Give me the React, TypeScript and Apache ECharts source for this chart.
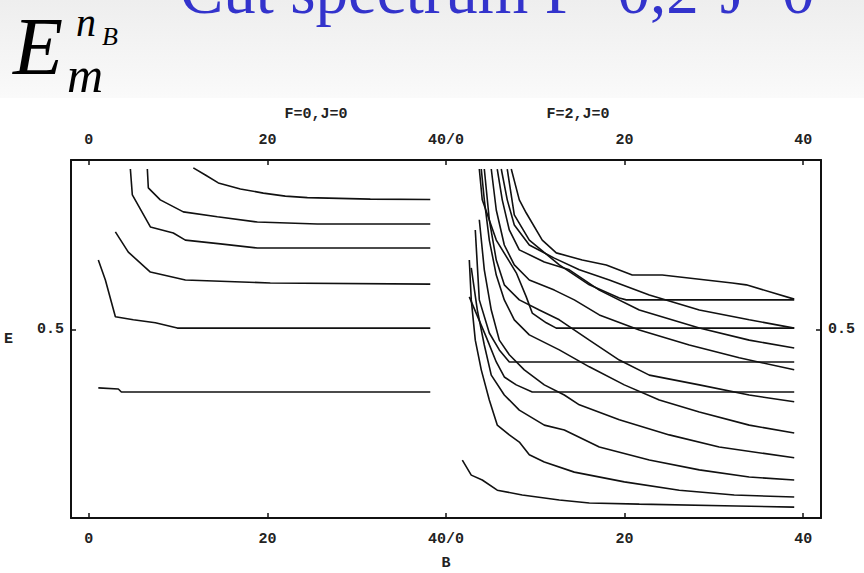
import React, { useEffect, useRef } from "react";
import * as echarts from "echarts";

// ---- texts ----
const titleMain = "Cut spectrum F=0,2";
const titleTail = "J=0";
const panelTitles = ["F=0,J=0", "F=2,J=0"];
const xAxisName = "B";
const yAxisName = "E";

// ---- axes ----
const xTickValues = [0, 20, 40, 60, 80];
const xTickLabels = ["0", "20", "40/0", "20", "40"];
const yTickValues = [0.5];
const yTickLabels = ["0.5"];
const panelOffsets = [0, 40];

// ---- data: [B, E] inside each panel ----
const f0Curves: number[][][] = [
  [[11.7, 0.931], [13.05, 0.912], [14.5, 0.891], [16.97, 0.875], [19.54, 0.864], [22.0, 0.856], [24.47, 0.852], [31.52, 0.848], [38.24, 0.847]],
  [[6.55, 0.928], [6.66, 0.878], [8.0, 0.846], [10.58, 0.814], [14.39, 0.801], [18.87, 0.787], [25.59, 0.782], [38.24, 0.782]],
  [[4.65, 0.928], [4.87, 0.859], [6.89, 0.774], [9.46, 0.758], [10.81, 0.739], [14.73, 0.729], [18.87, 0.718], [38.24, 0.718]],
  [[2.97, 0.761], [4.42, 0.707], [6.89, 0.654], [10.81, 0.633], [20.32, 0.625], [38.24, 0.622]],
  [[1.06, 0.686], [1.85, 0.633], [2.97, 0.535], [4.98, 0.527], [7.45, 0.519], [9.91, 0.505], [38.24, 0.505]],
  [[1.06, 0.346], [3.3, 0.343], [3.64, 0.335], [38.24, 0.335]],
];

const f2Curves: number[][][] = [
  [[1.83, 0.154], [2.83, 0.114], [4.06, 0.101], [5.74, 0.074], [8.54, 0.061], [12.69, 0.048], [16.05, 0.04], [21.65, 0.037], [32.51, 0.032], [39.0, 0.029]],
  [[2.61, 0.686], [2.83, 0.58], [3.28, 0.473], [3.95, 0.394], [4.85, 0.314], [5.74, 0.247], [7.09, 0.221], [8.21, 0.202], [9.33, 0.168], [11.01, 0.149], [14.37, 0.122], [19.97, 0.096], [26.13, 0.074], [32.28, 0.061], [39.0, 0.056]],
  [[2.83, 0.665], [3.51, 0.553], [4.29, 0.46], [5.07, 0.38], [6.53, 0.327], [8.21, 0.287], [11.01, 0.247], [13.25, 0.234], [17.17, 0.189], [22.77, 0.154], [28.37, 0.128], [33.96, 0.109], [39.0, 0.101]],
  [[3.73, 0.793], [4.29, 0.66], [5.07, 0.553], [5.97, 0.473], [7.09, 0.434], [8.77, 0.394], [11.01, 0.354], [13.25, 0.327], [14.93, 0.301], [19.41, 0.261], [25.01, 0.221], [30.6, 0.189], [39.0, 0.16]],
  [[3.95, 0.928], [4.29, 0.846], [4.85, 0.739], [5.63, 0.646], [6.53, 0.58], [7.65, 0.527], [9.33, 0.487], [12.69, 0.447], [16.05, 0.402], [19.97, 0.354], [23.89, 0.314], [28.37, 0.282], [33.96, 0.247], [39.0, 0.226]],
  [[4.29, 0.928], [4.85, 0.793], [5.63, 0.686], [6.53, 0.62], [8.21, 0.58], [10.45, 0.553], [12.69, 0.527], [16.05, 0.473], [19.41, 0.42], [22.77, 0.38], [28.37, 0.354], [33.96, 0.327], [39.0, 0.309]],
  [[5.07, 0.928], [5.63, 0.819], [6.53, 0.726], [7.65, 0.673], [9.33, 0.633], [12.13, 0.606], [14.37, 0.58], [17.17, 0.54], [21.65, 0.5], [27.25, 0.46], [32.84, 0.426], [39.0, 0.394]],
  [[5.74, 0.928], [6.3, 0.846], [7.09, 0.766], [8.21, 0.713], [11.01, 0.681], [13.81, 0.66], [17.17, 0.606], [21.65, 0.553], [28.37, 0.505], [33.96, 0.473], [39.0, 0.452]],
  [[6.19, 0.928], [6.86, 0.846], [7.65, 0.779], [9.33, 0.726], [12.13, 0.691], [14.93, 0.66], [18.29, 0.633], [22.77, 0.593], [28.37, 0.553], [33.96, 0.527], [39.0, 0.505]],
  [[7.31, 0.928], [8.21, 0.846], [8.99, 0.811], [10.78, 0.739], [12.35, 0.705], [15.26, 0.686], [17.95, 0.673], [20.86, 0.646], [24.22, 0.646], [32.06, 0.625], [33.63, 0.62], [39.0, 0.582]],
  [[6.86, 0.928], [7.65, 0.806], [9.33, 0.739], [12.69, 0.673], [16.05, 0.62], [19.41, 0.585], [20.19, 0.58], [39.0, 0.58]],
  [[3.73, 0.928], [4.06, 0.846], [5.63, 0.739], [7.87, 0.652], [8.99, 0.588], [9.66, 0.545], [11.23, 0.519], [12.35, 0.505], [39.0, 0.505]],
  [[3.28, 0.766], [3.73, 0.58], [4.85, 0.492], [5.97, 0.447], [7.09, 0.415], [39.0, 0.415]],
  [[2.61, 0.588], [4.51, 0.481], [5.63, 0.415], [6.53, 0.375], [7.87, 0.354], [9.66, 0.335], [39.0, 0.335]],
];

const panels = [f0Curves, f2Curves];

const monoFont = "'Liberation Mono', 'DejaVu Sans Mono', monospace";
const serifFont = "'Liberation Serif', 'DejaVu Serif', serif";
const ink = "#111";

function labelFor(values: number[], labels: string[]) {
  return (v: number) => {
    const i = values.findIndex((t) => Math.abs(t - v) < 1e-6);
    return i >= 0 ? labels[i] : "";
  };
}

export default function App() {
  const ref = useRef<HTMLDivElement>(null);

  useEffect(() => {
    document.body.style.margin = "0";
    const chart = echarts.init(ref.current!, undefined, { renderer: "svg" });

    const axisLine = { show: true, onZero: false, lineStyle: { color: ink, width: 2 } };
    const labelStyle = { fontFamily: monoFont, fontSize: 15, fontWeight: "bold", color: "#222" };

    const makeX = (position: "top" | "bottom", margin: number, withName: boolean) => ({
      type: "value",
      position,
      min: -2,
      max: 82,
      axisLine,
      axisTick: { show: true, inside: true, length: 5, customValues: xTickValues, lineStyle: { color: ink, width: 1.5 } },
      axisLabel: { show: true, customValues: xTickValues, formatter: labelFor(xTickValues, xTickLabels), margin, ...labelStyle },
      splitLine: { show: false },
      name: withName ? xAxisName : "",
      nameLocation: "middle",
      nameGap: 38,
      nameTextStyle: labelStyle,
    });

    const makeY = (position: "left" | "right", withName: boolean) => ({
      type: "value",
      position,
      min: 0,
      max: 0.952,
      axisLine,
      axisTick: { show: true, inside: true, length: 5, customValues: yTickValues, lineStyle: { color: ink, width: 1.5 } },
      axisLabel: { show: true, customValues: yTickValues, formatter: labelFor(yTickValues, yTickLabels), margin: 7, ...labelStyle },
      splitLine: { show: false },
      name: withName ? yAxisName : "",
      nameLocation: "middle",
      nameGap: 58,
      nameRotate: 0,
      nameTextStyle: labelStyle,
    });

    const series: any[] = [];
    panels.forEach((curves, p) => {
      curves.forEach((c, k) => {
        series.push({
          type: "line",
          name: `p${p}c${k}`,
          xAxisIndex: 0,
          yAxisIndex: 0,
          showSymbol: false,
          symbol: "none",
          silent: true,
          lineStyle: { color: ink, width: 1.6 },
          data: c.map(([b, e]) => [b + panelOffsets[p], e]),
        });
      });
    });

    const option: any = {
      animation: false,
      backgroundColor: "#ffffff",
      grid: { left: 71, top: 160, width: 750, height: 358, containLabel: false, outerBoundsMode: "none" },
      xAxis: [makeX("bottom", 14, true), makeX("top", 12, false)],
      yAxis: [makeY("left", true), makeY("right", false)],
      series,
      graphic: [
        {
          type: "rect",
          z: -10,
          shape: { x: 0, y: 0, width: 864, height: 98 },
          style: {
            fill: new echarts.graphic.LinearGradient(0, 0, 0, 1, [
              { offset: 0, color: "#eeeeee" },
              { offset: 1, color: "#fafafa" },
            ]),
          },
        },
        {
          type: "text",
          x: 180,
          y: -9.5,
          style: { text: titleMain, fontSize: 65, fontFamily: serifFont, fill: "#3333cc", align: "left", verticalAlign: "middle" },
        },
        {
          type: "text",
          x: 720,
          y: -9.5,
          style: { text: titleTail, fontSize: 65, fontFamily: serifFont, fill: "#3333cc", align: "left", verticalAlign: "middle" },
        },
        {
          type: "text",
          x: 13,
          y: 46,
          style: { text: "E", fontSize: 82, fontStyle: "italic", fontFamily: serifFont, fill: "#000", align: "left", verticalAlign: "middle" },
        },
        {
          type: "text",
          x: 76,
          y: 22.5,
          style: { text: "n", fontSize: 40, fontStyle: "italic", fontFamily: serifFont, fill: "#000", align: "left", verticalAlign: "middle" },
        },
        {
          type: "text",
          x: 102,
          y: 36,
          style: { text: "B", fontSize: 26, fontStyle: "italic", fontFamily: serifFont, fill: "#000", align: "left", verticalAlign: "middle" },
        },
        {
          type: "text",
          x: 67,
          y: 75,
          style: { text: "m", fontSize: 50, fontStyle: "italic", fontFamily: serifFont, fill: "#000", align: "left", verticalAlign: "middle" },
        },
        {
          type: "text",
          x: 316,
          y: 114,
          style: { text: panelTitles[0], fontSize: 15, fontWeight: "bold", fontFamily: monoFont, fill: "#222", align: "center", verticalAlign: "middle" },
        },
        {
          type: "text",
          x: 578,
          y: 114,
          style: { text: panelTitles[1], fontSize: 15, fontWeight: "bold", fontFamily: monoFont, fill: "#222", align: "center", verticalAlign: "middle" },
        },
      ],
    };

    chart.setOption(option);
    return () => chart.dispose();
  }, []);

  return <div ref={ref} style={{ width: 864, height: 573 }} />;
}
